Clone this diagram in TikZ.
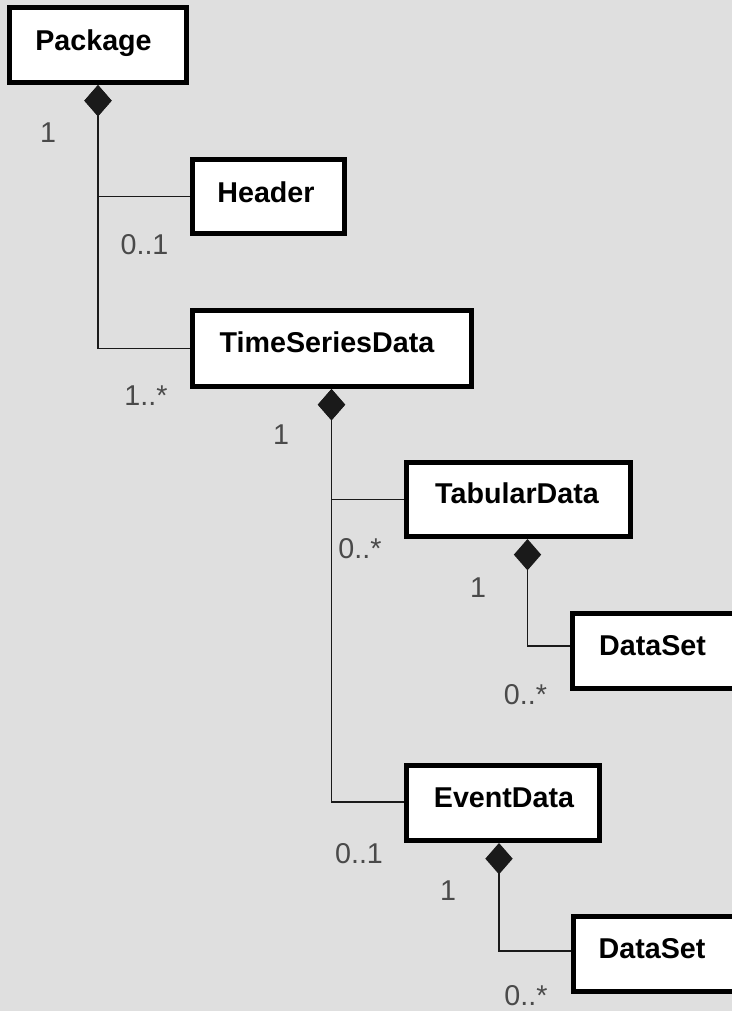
\documentclass[tikz,border=0pt]{standalone}
\usepackage{fontspec}
\setmainfont{Liberation Sans}
\usetikzlibrary{arrows.meta,calc}
\definecolor{bg}{HTML}{DFDFDF}
\definecolor{lbl}{HTML}{4A4A4A}
\definecolor{ln}{HTML}{1A1A1A}
\tikzset{
  classbox/.style={draw=black, fill=white, line width=3.75pt, inner sep=0pt},
  cname/.style={font=\fontsize{21.5}{24}\selectfont\bfseries, text=black, inner sep=0pt, text height=15.4pt, text depth=0pt, anchor=center},
  mult/.style={font=\fontsize{21.5}{24}\selectfont, text=lbl, inner sep=0pt, text height=15.4pt, text depth=0pt, anchor=center},
  comp/.style={draw=ln, line width=1.1pt, {Diamond[length=23.5pt, width=20.5pt]}-},
}
\begin{document}
\begin{tikzpicture}[x=0.75pt, y=-0.75pt]
\useasboundingbox (0,0) rectangle (732,1011);
\clip (0,0) rectangle (732,1011);
\fill[bg] (0,0) rectangle (732,1011);

% class boxes
\node[classbox, minimum width=132.75pt, minimum height=56.25pt] (pkg) at (98,45) {};
\node[classbox, minimum width=114pt, minimum height=55.5pt] (hdr) at (268.5,196.5) {};
\node[classbox, minimum width=209.25pt, minimum height=57pt] (ts) at (332,348.5) {};
\node[classbox, minimum width=168pt, minimum height=55.5pt] (td) at (518.5,499.5) {};
\node[classbox, minimum width=123.75pt, minimum height=56.25pt] (ds1) at (655,651) {};
\node[classbox, minimum width=144.75pt, minimum height=56.25pt] (ed) at (503,803) {};
\node[classbox, minimum width=123pt, minimum height=56.25pt] (ds2) at (655.5,954) {};

% class names
\node[cname] (tpkg) at (93.5,40) {Package};
\node[cname] (thdr) at (266,192.5) {Header};
\node[cname] (tts) at (327,342.5) {TimeSeriesData};
\node[cname] (ttd) at (517,493.5) {TabularData};
\node[cname] (tds1) at (652.5,645) {DataSet};
\node[cname] (ted) at (504,797) {EventData};
\node[cname] (tds2) at (652,948) {DataSet};

% composition connectors
\coordinate (pkgd) at ($(pkg.south)+(0,0)$);
\coordinate (tsd) at ($(ts.south)+(-0.5,0)$);
\coordinate (tdd) at ($(td.south)+(9,0)$);
\coordinate (edd) at ($(ed.south)+(-4,0)$);

\draw[comp] (pkgd) |- (hdr.west);
\draw[comp] (pkgd) |- (ts.west);
\draw[comp] (tsd) |- (td.west);
\draw[comp] (tsd) |- ($(ed.west)+(0,-1)$);
\draw[comp] (tdd) |- ($(ds1.west)+(0,-5)$);
\draw[comp] (edd) |- ($(ds2.west)+(0,-3)$);

% multiplicities
\node[mult] (m1) at (48,132) {1};
\node[mult] (m2) at (144.5,244) {0..1};
\node[mult] (m3) at (146,395) {1..*};
\node[mult] (m4) at (281,434) {1};
\node[mult] (m5) at (360,548) {0..*};
\node[mult] (m6) at (478,587) {1};
\node[mult] (m7) at (525.5,694) {0..*};
\node[mult] (m8) at (359,853) {0..1};
\node[mult] (m9) at (448,890) {1};
\node[mult] (m10) at (526,995.5) {0..*};
\end{tikzpicture}
\end{document}
